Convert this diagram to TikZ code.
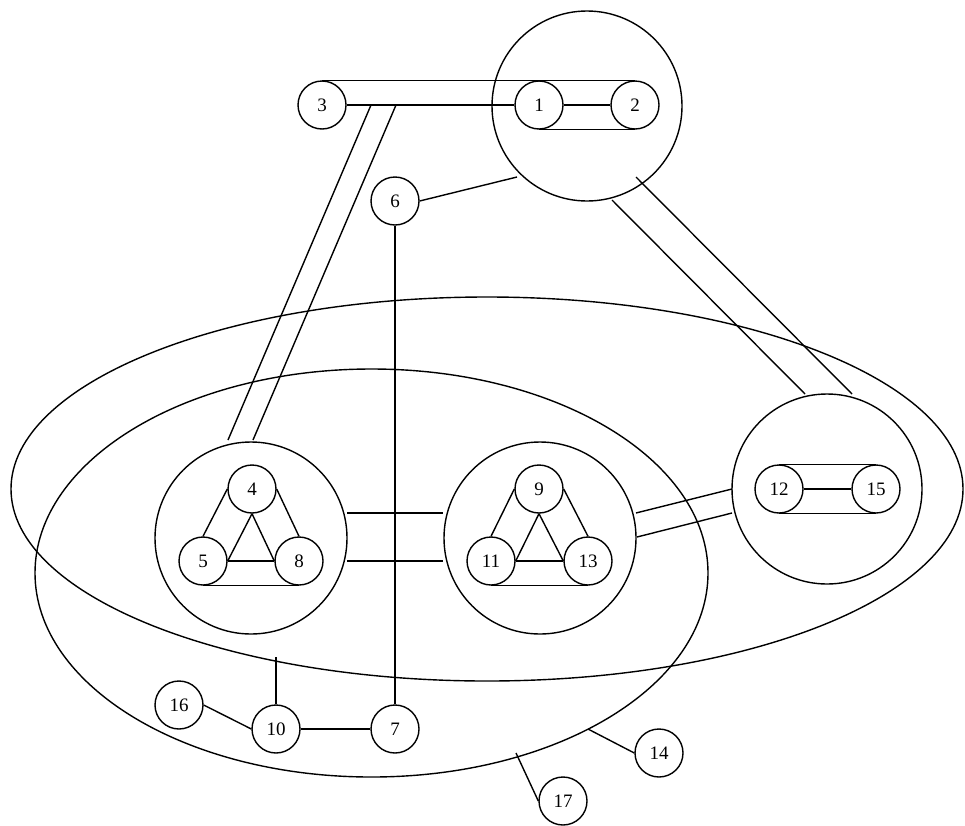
\documentclass[tikz,border=0pt]{standalone}
\usepackage{fontspec}
\setmainfont{Liberation Serif}
\usetikzlibrary{shapes.geometric}
\begin{document}
\begin{tikzpicture}[x=1pt,y=-1pt,line width=1.4pt,
  v/.style={circle,draw,minimum size=48pt,inner sep=0pt,font=\fontsize{19}{19}\selectfont},
  grp/.style={circle,draw,minimum size=192pt,inner sep=0pt},
  hyp/.style={ellipse,draw,inner sep=0pt}]
\useasboundingbox (0,0) rectangle (965,825);
% hyperedges
\node[hyp,minimum width=952pt,minimum height=384pt] (E1) at (487,489) {};
\node[hyp,minimum width=673pt,minimum height=408pt] (E2) at (371.5,573) {};
% group circles
\node[grp,minimum size=190pt] (G12) at (587,106) {};
\node[grp] (G458) at (251,538) {};
\node[grp] (G9) at (540,538) {};
\node[grp,minimum size=190pt] (G15) at (827,489) {};
% vertices
\node[v] (n1) at (539,105) {1};
\node[v] (n2) at (635,105) {2};
\node[v] (n3) at (322,105) {3};
\node[v] (n6) at (395,201) {6};
\node[v] (n4) at (252,489) {4};
\node[v] (n5) at (203,561) {5};
\node[v] (n8) at (299,561) {8};
\node[v] (n9) at (539,489) {9};
\node[v] (n11) at (491,561) {11};
\node[v] (n13) at (588,561) {13};
\node[v] (n12) at (779,489) {12};
\node[v] (n15) at (876,489) {15};
\node[v] (n16) at (179,705) {16};
\node[v] (n10) at (276,729) {10};
\node[v] (n7) at (395,729) {7};
\node[v] (n14) at (659,753) {14};
\node[v] (n17) at (563,801) {17};
% free ends
\coordinate (a1) at (371,105); \coordinate (a2) at (396,105);
\coordinate (b1) at (228,440); \coordinate (b2) at (253,440);
\coordinate (c1) at (347,513); \coordinate (c2) at (443,513);
\coordinate (c3) at (347,561); \coordinate (c4) at (443,561);
\coordinate (d1) at (636,513); \coordinate (d2) at (732,489);
\coordinate (d3) at (637,537); \coordinate (d4) at (732,513);
\coordinate (e1) at (612,200); \coordinate (e2) at (805,394);
\coordinate (e3) at (636,177); \coordinate (e4) at (852,394);
\coordinate (f6) at (517,177);
\coordinate (f10) at (276,657);
\coordinate (f14) at (588,729);
\coordinate (f17) at (516,753);
% edges inside groups
\draw (n1.east) -- (n2.west);
\draw (n1.south) -- (n2.south);
\draw (n3.east) -- (n1.west);
\draw (n3.north) -- (n2.north);
\draw (n4.west) -- (n5.north);
\draw (n4.south) -- (n5.east);
\draw (n4.east) -- (n8.north);
\draw (n4.south) -- (n8.west);
\draw (n5.east) -- (n8.west);
\draw (n5.south) -- (n8.south);
\draw (n9.west) -- (n11.north);
\draw (n9.south) -- (n11.east);
\draw (n9.east) -- (n13.north);
\draw (n9.south) -- (n13.west);
\draw (n11.east) -- (n13.west);
\draw (n11.south) -- (n13.south);
\draw (n12.east) -- (n15.west);
\draw (n12.north) -- (n15.north);
\draw (n12.south) -- (n15.south);
% edges between groups
\draw (a1) -- (b1);
\draw (a2) -- (b2);
\draw (c1) -- (c2);
\draw (c3) -- (c4);
\draw (d1) -- (d2);
\draw (d3) -- (d4);
\draw (e1) -- (e2);
\draw (e3) -- (e4);
% other edges
\draw (n6.east) -- (f6);
\draw (n6.south) -- (n7.north);
\draw (n10.north) -- (f10);
\draw (n16.east) -- (n10.west);
\draw (n10.east) -- (n7.west);
\draw (n14.west) -- (f14);
\draw (n17.west) -- (f17);
\end{tikzpicture}
\end{document}
